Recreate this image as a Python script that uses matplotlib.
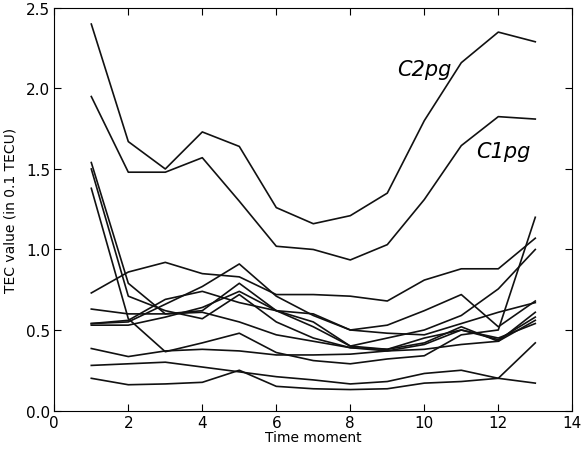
import matplotlib
matplotlib.use("Agg")
import matplotlib.pyplot as plt

# time moments
moments = list(range(1, 14))

# TEC series (0.1 TECU)
c2pg = [2.40, 1.67, 1.50, 1.73, 1.64, 1.26, 1.16, 1.21, 1.35, 1.80, 2.16, 2.35, 2.29]
c1pg = [1.95, 1.48, 1.48, 1.57, 1.30, 1.02, 1.00, 0.935, 1.03, 1.31, 1.645, 1.825, 1.81]
sat_a = [0.73, 0.86, 0.92, 0.85, 0.83, 0.72, 0.72, 0.71, 0.68, 0.81, 0.88, 0.88, 1.07]
sat_b = [1.54, 0.79, 0.60, 0.62, 0.79, 0.62, 0.55, 0.40, 0.45, 0.50, 0.59, 0.755, 1.00]
sat_c = [1.50, 0.71, 0.62, 0.57, 0.72, 0.55, 0.45, 0.39, 0.38, 0.42, 0.52, 0.43, 0.61]
sat_d = [1.38, 0.57, 0.365, 0.42, 0.48, 0.36, 0.31, 0.29, 0.32, 0.34, 0.47, 0.50, 1.20]
sat_e = [0.54, 0.55, 0.66, 0.77, 0.91, 0.71, 0.59, 0.50, 0.48, 0.47, 0.54, 0.61, 0.67]
sat_f = [0.54, 0.56, 0.69, 0.74, 0.67, 0.62, 0.60, 0.50, 0.53, 0.62, 0.72, 0.52, 0.68]
sat_g = [0.63, 0.60, 0.60, 0.61, 0.55, 0.47, 0.43, 0.39, 0.37, 0.41, 0.50, 0.44, 0.58]
sat_h = [0.53, 0.53, 0.58, 0.64, 0.74, 0.62, 0.52, 0.40, 0.38, 0.45, 0.50, 0.45, 0.54]
sat_i = [0.385, 0.335, 0.37, 0.38, 0.37, 0.345, 0.345, 0.35, 0.37, 0.38, 0.41, 0.43, 0.56]
sat_j = [0.28, 0.29, 0.30, 0.27, 0.24, 0.21, 0.19, 0.165, 0.18, 0.23, 0.25, 0.20, 0.17]
sat_k = [0.20, 0.16, 0.165, 0.175, 0.25, 0.15, 0.135, 0.13, 0.135, 0.17, 0.18, 0.20, 0.42]

series = [c2pg, c1pg, sat_a, sat_b, sat_c, sat_d, sat_e, sat_f,
          sat_g, sat_h, sat_i, sat_j, sat_k]

fig = plt.figure(figsize=(5.82, 4.52), dpi=100)
ax = fig.add_axes([0.0933, 0.0896, 0.89, 0.8906])

for s in series:
    ax.plot(moments, s, color='#111111', linewidth=1.2)

ax.text(9.26, 2.12, "C2pg", fontsize=15, style='italic', va='center', ha='left')
ax.text(11.4, 1.61, "C1pg", fontsize=15, style='italic', va='center', ha='left')

ax.set_xlim(0, 14)
ax.set_ylim(0, 2.5)
ax.set_xticks(range(0, 15, 2))
ax.set_yticks([0.0, 0.5, 1.0, 1.5, 2.0, 2.5])
ax.set_yticklabels(["0.0", "0.5", "1.0", "1.5", "2.0", "2.5"])
ax.tick_params(direction='in', top=True, right=True, labelsize=11, length=5, pad=3)
ax.set_xlabel("Time moment", fontsize=10, labelpad=0)
ax.set_ylabel("TEC value (in 0.1 TECU)", fontsize=10, labelpad=6)

fig.savefig("out.png", dpi=100)
plt.close(fig)
